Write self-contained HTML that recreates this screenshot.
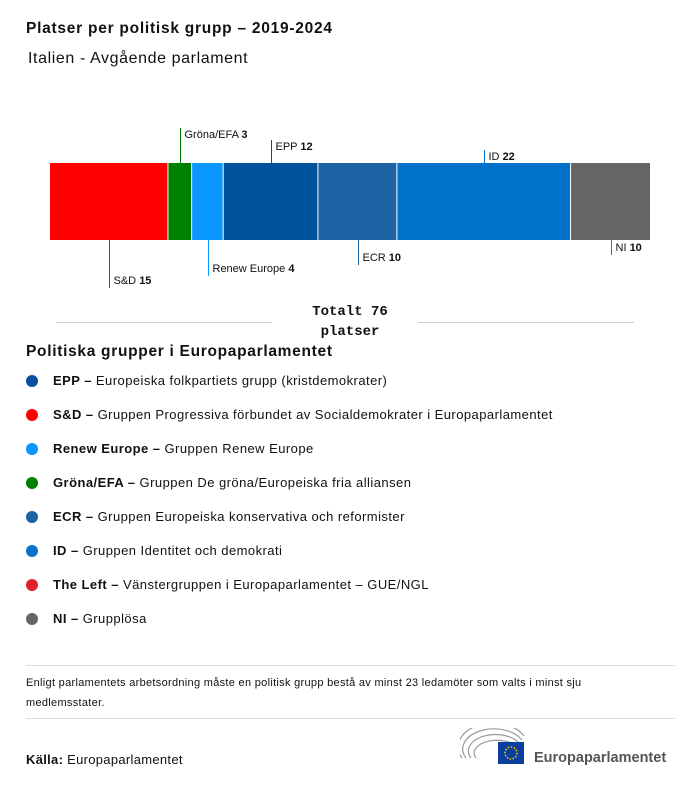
<!DOCTYPE html>
<html><head><meta charset="utf-8"><style>
body{margin:0;width:700px;height:786px;background:#fff;font-family:"Liberation Sans",sans-serif;color:#111;position:relative;overflow:hidden}
.a{position:absolute;white-space:nowrap}
.leg{position:absolute;left:26px;font-size:13px;letter-spacing:0.45px}
.leg .dot{display:inline-block;width:12px;height:12px;border-radius:50%;vertical-align:-2px;margin-right:15px}
</style></head><body>
<div class="a" style="left:26px;top:20px;font-size:15.5px;font-weight:bold;letter-spacing:0.75px">Platser per politisk grupp – 2019-2024</div>
<div class="a" style="left:28px;top:50px;font-size:16px;letter-spacing:0.6px">Italien - Avgående parlament</div>
<svg id="chart" width="700" height="300" style="position:absolute;left:0;top:0"></svg>
<div class="a" style="left:56px;top:322px;width:216px;border-top:1px solid #ccc"></div>
<div class="a" style="left:418px;top:322px;width:216px;border-top:1px solid #ccc"></div>
<div class="a" style="left:295px;top:302px;width:110px;text-align:center;font-family:'Liberation Mono',monospace;font-weight:bold;font-size:14px;line-height:20px;white-space:normal">Totalt 76 platser</div>
<div class="a" style="left:26px;top:343px;font-size:15.5px;font-weight:bold;letter-spacing:0.7px">Politiska grupper i Europaparlamentet</div>
<div class="leg" style="top:373px"><span class="dot" style="background:#0a50a0"></span><b>EPP –</b> Europeiska folkpartiets grupp (kristdemokrater)</div>
<div class="leg" style="top:407px"><span class="dot" style="background:#f00"></span><b>S&amp;D –</b> Gruppen Progressiva förbundet av Socialdemokrater i Europaparlamentet</div>
<div class="leg" style="top:441px"><span class="dot" style="background:#0a96ff"></span><b>Renew Europe –</b> Gruppen Renew Europe</div>
<div class="leg" style="top:475px"><span class="dot" style="background:#008000"></span><b>Gröna/EFA –</b> Gruppen De gröna/Europeiska fria alliansen</div>
<div class="leg" style="top:509px"><span class="dot" style="background:#1c62a5"></span><b>ECR –</b> Gruppen Europeiska konservativa och reformister</div>
<div class="leg" style="top:543px"><span class="dot" style="background:#0a73c8"></span><b>ID –</b> Gruppen Identitet och demokrati</div>
<div class="leg" style="top:577px"><span class="dot" style="background:#e0202a"></span><b>The Left –</b> Vänstergruppen i Europaparlamentet – GUE/NGL</div>
<div class="leg" style="top:611px"><span class="dot" style="background:#666"></span><b>NI –</b> Grupplösa</div>
<div class="a" style="left:26px;top:665px;width:649px;border-top:1px solid #ddd"></div>
<div class="a" style="left:26px;top:673px;width:600px;font-size:11px;line-height:20px;letter-spacing:0.3px;white-space:normal">Enligt parlamentets arbetsordning måste en politisk grupp bestå av minst 23 ledamöter som valts i minst sju medlemsstater.</div>
<div class="a" style="left:26px;top:718px;width:649px;border-top:1px solid #ddd"></div>
<div class="a" style="left:26px;top:752px;font-size:13px;letter-spacing:0.3px"><b>Källa:</b> Europaparlamentet</div>
<svg class="a" style="left:460px;top:728px" width="220" height="40">
<g fill="none" stroke="#999" stroke-width="1.2"><path d="M6 30 A28 18 0 0 1 62 12"/><path d="M11 30 A23 14 0 0 1 60 16"/><path d="M16 30 A18 10 0 0 1 58 20"/><path d="M2 30 A32 22 0 0 1 64 8"/></g>
<rect x="38" y="14" width="26" height="22" fill="#0a3f9c"/><circle cx="51" cy="25" r="6" fill="none" stroke="#fc0" stroke-dasharray="1.5 1.6" stroke-width="1.5"/>
<text x="74" y="34" font-size="14.5" font-weight="bold" fill="#555" font-family="Liberation Sans,sans-serif">Europaparlamentet</text></svg>
<script>
const groups=["S&D","Gröna/EFA","Renew Europe","EPP","ECR","ID","NI"];
const seats=[15,3,4,12,10,22,10];
const colors=["#ff0000","#008000","#0a98ff","#00539b","#1c63a4","#0073c8","#666666"];
const labelSide=["below","above","below","above","below","above","below"];
const labelOffset=[48,35,36,23,25,13,15];
const svg=document.getElementById('chart');const NS="http://www.w3.org/2000/svg";
const total=seats.reduce((a,b)=>a+b,0);const x0=50,W=600,y0=163,H=77;
const sx=v=>x0+v/total*W;
let cum=0;
groups.forEach((g,i)=>{
 const xa=sx(cum),xb=sx(cum+seats[i]);cum+=seats[i];
 const r=document.createElementNS(NS,'rect');
 r.setAttribute('x',xa);r.setAttribute('y',y0);r.setAttribute('width',xb-xa-(i<groups.length-1?1:0));r.setAttribute('height',H);r.setAttribute('fill',colors[i]);
 
 
 svg.appendChild(r);
 const cx=Math.round((xa+xb)/2)+0.5;
 const l=document.createElementNS(NS,'line');
 const below=labelSide[i]==='below';
 const ye=below?y0+H+labelOffset[i]:y0-labelOffset[i];
 l.setAttribute('x1',cx);l.setAttribute('x2',cx);l.setAttribute('y1',below?y0+H:y0);l.setAttribute('y2',ye);l.setAttribute('stroke',colors[i]);
 
 
 svg.appendChild(l);
 const t=document.createElementNS(NS,'text');
 t.setAttribute('x',cx+4);t.setAttribute('y',below?ye-4:ye+10);t.setAttribute('font-size','11');t.setAttribute('fill','#111');
 t.innerHTML=g.replace('&','&amp;')+' <tspan font-weight="bold">'+seats[i]+'</tspan>';
 
 
 svg.appendChild(t);
});
</script>
</body></html>
